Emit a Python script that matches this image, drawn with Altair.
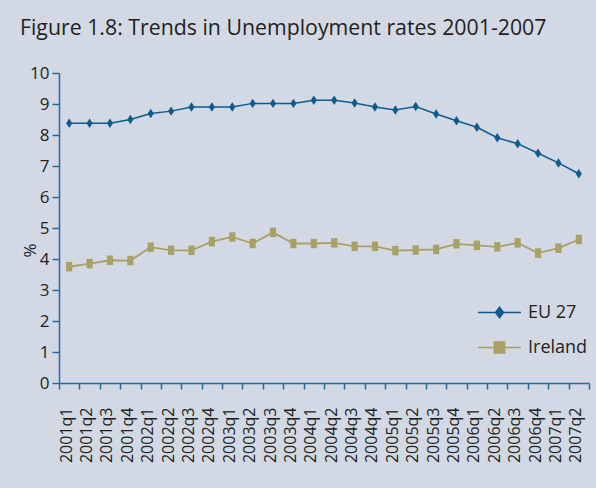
import altair as alt
import pandas as pd

quarters = ["2001q1", "2001q2", "2001q3", "2001q4", "2002q1", "2002q2", "2002q3", "2002q4",
            "2003q1", "2003q2", "2003q3", "2003q4", "2004q1", "2004q2", "2004q3", "2004q4",
            "2005q1", "2005q2", "2005q3", "2005q4", "2006q1", "2006q2", "2006q3", "2006q4",
            "2007q1", "2007q2"]
eu27 = [8.38, 8.38, 8.38, 8.5, 8.69, 8.77, 8.9, 8.9, 8.9, 9.02, 9.02, 9.02, 9.12, 9.12,
        9.03, 8.9, 8.81, 8.92, 8.68, 8.46, 8.25, 7.91, 7.72, 7.41, 7.1, 6.75]
ireland = [3.75, 3.85, 3.96, 3.95, 4.38, 4.28, 4.28, 4.56, 4.71, 4.5, 4.86, 4.5, 4.5, 4.52,
           4.41, 4.41, 4.27, 4.29, 4.31, 4.49, 4.44, 4.39, 4.52, 4.19, 4.35, 4.63]
series_names = ["EU 27", "Ireland"]
series_colors = ["#0f5b8e", "#a9a066"]

rows = []
for q, v in zip(quarters, eu27):
    rows.append({"quarter": q, "series": "EU 27", "value": v})
for q, v in zip(quarters, ireland):
    rows.append({"quarter": q, "series": "Ireland", "value": v})
df = pd.DataFrame(rows)

FONT = "Open Sans"
TXT = "#231f20"
AXC = "#2a6a9a"

x_enc = alt.X("quarter:N", sort=quarters, bandPosition=0.5,
              scale=alt.Scale(type="band", paddingInner=0, paddingOuter=0),
              axis=alt.Axis(title=None, labelAngle=270, labelAlign="right", labelBaseline="middle",
                            labelFontSize=16, labelFont=FONT, labelColor=TXT, labelPadding=18,
                            labelOffset=-3, tickBand="extent", tickSize=6, tickColor=AXC,
                            domainColor=AXC, domainWidth=1.5, tickWidth=1.5, grid=False))
y_enc = alt.Y("value:Q", scale=alt.Scale(domain=[0, 10], nice=False),
              axis=alt.Axis(title="%", values=list(range(11)), titleX=-29, titleY=177,
                            titleAngle=270, titleFontSize=17, titleFont=FONT, titleColor=TXT,
                            titleFontWeight="normal", titleAlign="center", titleBaseline="middle",
                            labelFontSize=17, labelFont=FONT, labelColor=TXT, labelPadding=3,
                            tickSize=7, tickColor=AXC, tickWidth=1.5, domainColor=AXC,
                            domainWidth=1.5, grid=False))

base = alt.Chart(df)

eu_line = base.transform_filter(alt.datum.series == "EU 27").mark_line(
    color=series_colors[0], strokeWidth=1.5).encode(x=x_enc, y=y_enc)
ir_line = base.transform_filter(alt.datum.series == "Ireland").mark_line(
    color=series_colors[1], strokeWidth=1.8).encode(x=x_enc, y=y_enc)

diamond = "M0,-1L0.65,0L0,1L-0.65,0Z"
square = "M-0.65,-1L0.65,-1L0.65,1L-0.65,1Z"
eu_pts = base.transform_filter(alt.datum.series == "EU 27").mark_point(
    shape=diamond, size=90, filled=True, opacity=1, color=series_colors[0]).encode(x=x_enc, y=y_enc)
ir_pts = base.transform_filter(alt.datum.series == "Ireland").mark_point(
    shape=square, size=90, filled=True, opacity=1, color=series_colors[1]).encode(x=x_enc, y=y_enc)

leg_eu = "M-1.5,0L1.5,0M0,-0.36L0.28,0L0,0.36L-0.28,0Z"
leg_ir = "M-1.5,0L1.5,0M-0.36,-0.38L0.36,-0.38L0.36,0.38L-0.36,0.38Z"
legend = alt.Legend(title=None, orient="none", legendX=425, legendY=224, padding=0,
                    symbolSize=824, symbolStrokeWidth=1.5, symbolOpacity=1,
                    labelFontSize=18, labelFont=FONT, labelColor=TXT, labelOffset=13,
                    rowPadding=10, direction="vertical")
col_scale = alt.Scale(domain=series_names, range=series_colors)
leg_layer = base.mark_point(filled=True, opacity=0).encode(
    x=x_enc, y=y_enc,
    fill=alt.Fill("series:N", scale=col_scale, legend=legend),
    stroke=alt.Stroke("series:N", scale=col_scale, legend=legend),
    shape=alt.Shape("series:N", scale=alt.Scale(domain=series_names, range=[leg_eu, leg_ir]),
                    legend=legend),
)

chart = alt.layer(eu_line, ir_line, eu_pts, ir_pts, leg_layer).properties(
    width=530, height=310,
    title=alt.TitleParams("Figure 1.8: Trends in Unemployment rates 2001-2007", anchor="start",
                          frame="group", dx=-39, dy=31, offset=39, baseline="alphabetic",
                          fontSize=21.3, font=FONT, fontWeight="normal", color=TXT),
    background="#d2d9e4",
    padding={"left": 59, "top": 73, "right": 7, "bottom": 105},
    autosize=alt.AutoSizeParams(type="none"),
).configure_view(stroke=None)

chart.save("out.html", embed_options={"renderer": "svg", "actions": False})
